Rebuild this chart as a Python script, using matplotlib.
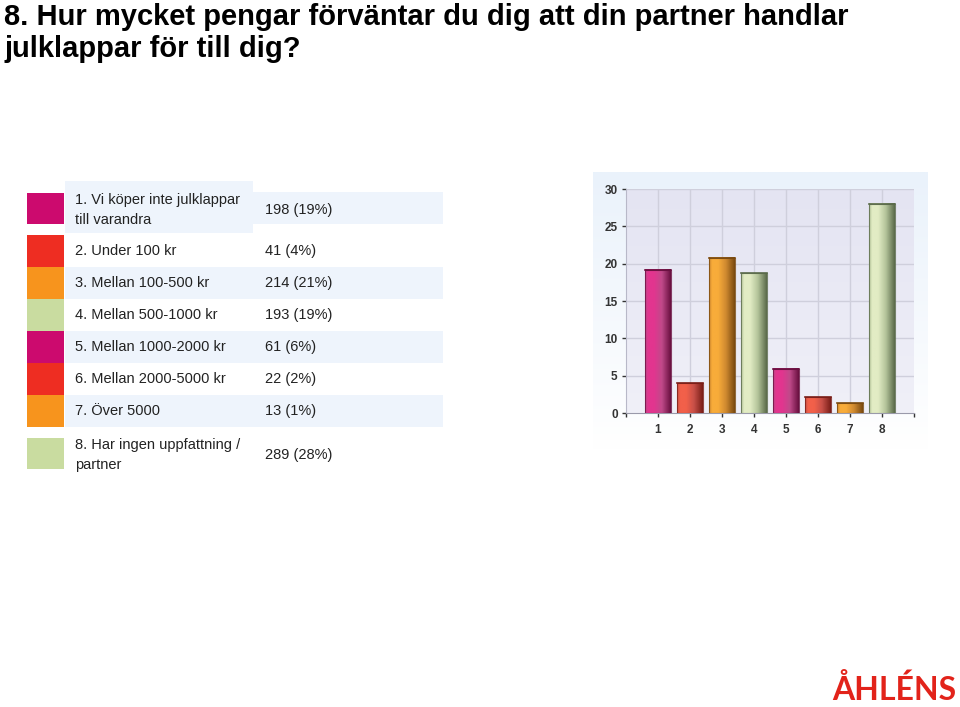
import numpy as np
import matplotlib.pyplot as plt
from matplotlib.patches import Rectangle
from matplotlib.colors import LinearSegmentedColormap

plt.rcParams['font.family'] = ['Liberation Sans', 'DejaVu Sans']

# ---- data ----
title = "8. Hur mycket pengar förväntar du dig att din partner handlar\njulklappar för till dig?"
labels = ["1. Vi köper inte julklappar\ntill varandra", "2. Under 100 kr", "3. Mellan 100-500 kr",
          "4. Mellan 500-1000 kr", "5. Mellan 1000-2000 kr", "6. Mellan 2000-5000 kr",
          "7. Över 5000", "8. Har ingen uppfattning /\npartner"]
counts = [198, 41, 214, 193, 61, 22, 13, 289]
pct_text = ["19%", "4%", "21%", "19%", "6%", "2%", "1%", "28%"]
bar_values = [19.2, 4.0, 20.8, 18.7, 5.9, 2.1, 1.3, 28.0]
categories = [1, 2, 3, 4, 5, 6, 7, 8]
yticks = [0, 5, 10, 15, 20, 25, 30]
swatch_colors = ["#cc0a6e", "#ee2d22", "#f7941d", "#c9dca0", "#cc0a6e", "#ee2d22", "#f7941d", "#c9dca0"]
# light / mid / dark for cylindrical bar shading
bar_shades = {
    "#cc0a6e": ("#e2358f", "#c04a8a", "#6a1040"),
    "#ee2d22": ("#f2604a", "#c85048", "#7a1e18"),
    "#f7941d": ("#f8ac3a", "#d08a30", "#7a4a10"),
    "#c9dca0": ("#e2ecc4", "#b4c49a", "#5a6a4a"),
}

W, H = 960, 707
fig = plt.figure(figsize=(W / 100, H / 100), dpi=100)
bg = fig.add_axes([0, 0, 1, 1])
bg.set_xlim(0, W)
bg.set_ylim(H, 0)
bg.axis('off')

# title
fig.text(4 / W, 1 - 3 / H, title, ha='left', va='top', fontsize=21, fontweight='bold',
         family=['Liberation Sans Narrow', 'Liberation Sans', 'DejaVu Sans'], linespacing=1.2, color='black')

# ---- legend table ----
row_tops = [180, 235, 267, 299, 331, 363, 395, 427]
light = "#eef4fc"
bg.add_patch(Rectangle((65, 181), 188, 52, color=light, lw=0))
bg.add_patch(Rectangle((253, 192), 190, 32, color=light, lw=0))
for i in [2, 4, 6]:
    bg.add_patch(Rectangle((65, row_tops[i]), 378, 32, color=light, lw=0))
bg.add_patch(Rectangle((27, 193), 37, 31, color=swatch_colors[0], lw=0))
for i in range(1, 7):
    bg.add_patch(Rectangle((27, row_tops[i]), 37, 32, color=swatch_colors[i], lw=0))
bg.add_patch(Rectangle((27, 438), 37, 31, color=swatch_colors[7], lw=0))
text_y = [210, 251, 283, 315, 347, 379, 411, 455]
for i in range(8):
    bg.text(75, text_y[i], labels[i], ha='left', va='center', fontsize=10.5, color='#222222',
            linespacing=1.5)
    bg.text(265, text_y[i], f"{counts[i]} ({pct_text[i]})", ha='left',
            va='center', fontsize=10.5, color='#222222')

# ---- chart panel background (soft gradient) ----
panel = np.linspace(0, 1, 100)[:, None] * np.ones((1, 2))
cm_panel = LinearSegmentedColormap.from_list('p', ["#eaf2fb", "#ffffff"])
bg.imshow(panel, cmap=cm_panel, extent=[593, 928, 450, 172], aspect='auto', zorder=0)

# ---- bar chart ----
ax = fig.add_axes([626 / W, 1 - 413 / H, (914 - 626) / W, (413 - 189) / H])
ax.set_xlim(0, 9)
ax.set_ylim(0, 30)
grad = np.linspace(0, 1, 100)[:, None] * np.ones((1, 2))
cm_area = LinearSegmentedColormap.from_list('a', ["#f0f0f8", "#e4e4f2"])
ax.imshow(grad, cmap=cm_area, extent=[0, 9, 0, 30], aspect='auto', zorder=0, origin='lower')
for y in yticks[1:]:
    ax.axhline(y, color='#cfcfdc', lw=1, zorder=1)
for x in categories:
    ax.axvline(x, color='#cfcfdc', lw=1, zorder=1)

bw = 0.79
hgrad = np.linspace(0, 1, 120)[None, :]
for x, v, c in zip(categories, bar_values, swatch_colors):
    l, m, d = bar_shades[c]
    cm = LinearSegmentedColormap.from_list('b', [(0, m), (0.12, l), (0.35, l), (0.65, m), (1, d)])
    ax.imshow(hgrad, cmap=cm, extent=[x - bw / 2, x + bw / 2, 0, v], aspect='auto', zorder=3,
              interpolation='bilinear')
    ax.add_patch(Rectangle((x - bw / 2, 0), bw, v, fill=False, ec=d, lw=0.8, zorder=4, alpha=0.8))
    ax.plot([x - bw / 2, x + bw / 2], [v, v], color=d, lw=1.2, zorder=5)
ax.set_xlim(0, 9)
ax.set_ylim(0, 30)

for s in ['top', 'right']:
    ax.spines[s].set_visible(False)
ax.spines['left'].set_color('#b8b8c8')
ax.spines['bottom'].set_color('#9a9aaa')
ax.set_yticks(yticks)
ax.set_xticks([0] + categories + [9])
ax.set_xticklabels([''] + [str(c) for c in categories] + [''])
for lab in ax.get_yticklabels() + ax.get_xticklabels():
    lab.set_fontfamily(['Liberation Sans Narrow', 'Liberation Sans', 'DejaVu Sans'])
    lab.set_fontsize(8.5)
    lab.set_fontweight('bold')
    lab.set_color('#333333')
ax.tick_params(axis='both', direction='out', length=3, width=1, color='#333333', pad=3)
ax.tick_params(axis='x', pad=5)

# ---- logo ----
fig.text(956 / W, 1 - 690 / H, "ÅHLÉNS", ha='right', va='center', fontsize=23, fontweight='bold',
         color='#e2231a', family=['Lato', 'Liberation Sans', 'DejaVu Sans'])

fig.savefig('out.png', dpi=100)
